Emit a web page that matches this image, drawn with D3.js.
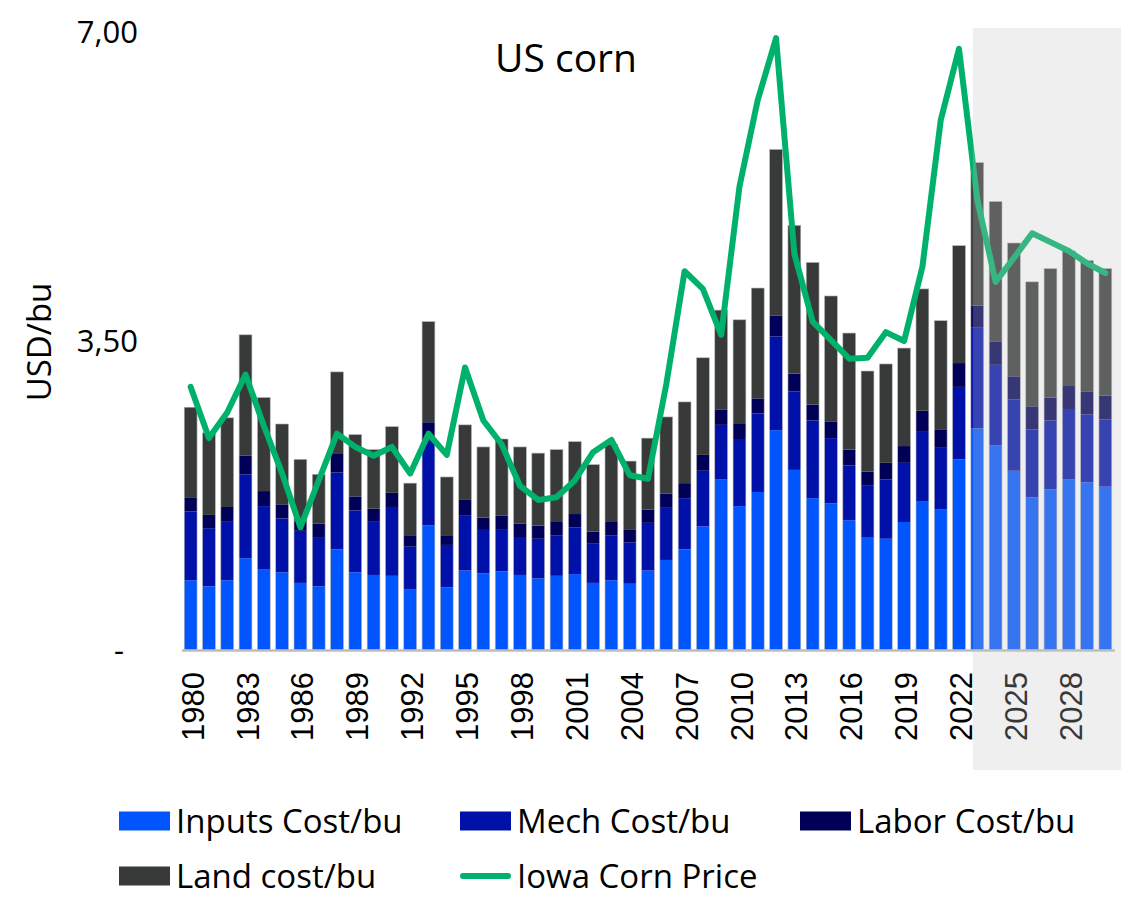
<!DOCTYPE html>
<html>
<head>
<meta charset="utf-8">
<script src="https://cdn.jsdelivr.net/npm/d3@7"></script>
<style>
  body { margin: 0; background: #fff; }
  text { font-family: "Open Sans", sans-serif; fill: #000; }
</style>
</head>
<body>
<div id="container"></div>
<script>
// Data (USD/bu)
const years = [1980, 1981, 1982, 1983, 1984, 1985, 1986, 1987, 1988, 1989,
  1990, 1991, 1992, 1993, 1994, 1995, 1996, 1997, 1998, 1999,
  2000, 2001, 2002, 2003, 2004, 2005, 2006, 2007, 2008, 2009,
  2010, 2011, 2012, 2013, 2014, 2015, 2016, 2017, 2018, 2019,
  2020, 2021, 2022, 2023, 2024, 2025, 2026, 2027, 2028, 2029, 2030];
const inputsCost = [0.79, 0.72, 0.79, 1.04, 0.91, 0.88, 0.76, 0.72, 1.14, 0.88,
  0.85, 0.84, 0.69, 1.41, 0.71, 0.90, 0.87, 0.89, 0.85, 0.81,
  0.84, 0.86, 0.76, 0.79, 0.75, 0.90, 1.02, 1.14, 1.40, 1.93,
  1.63, 1.79, 2.49, 2.04, 1.72, 1.66, 1.47, 1.28, 1.26, 1.45,
  1.68, 1.59, 2.16, 2.51, 2.32, 2.03, 1.73, 1.82, 1.93, 1.90, 1.85];
const mechCost = [0.78, 0.66, 0.67, 0.95, 0.72, 0.61, 0.59, 0.55, 0.87, 0.70,
  0.61, 0.78, 0.48, 0.96, 0.48, 0.62, 0.49, 0.48, 0.43, 0.45,
  0.46, 0.53, 0.45, 0.51, 0.47, 0.54, 0.59, 0.58, 0.63, 0.62,
  0.76, 0.89, 1.06, 0.89, 0.88, 0.74, 0.62, 0.58, 0.67, 0.67,
  0.80, 0.70, 0.82, 1.14, 0.91, 0.81, 0.77, 0.78, 0.80, 0.77, 0.76];
const laborCost = [0.16, 0.15, 0.16, 0.21, 0.17, 0.16, 0.11, 0.16, 0.21, 0.16,
  0.14, 0.16, 0.13, 0.21, 0.11, 0.18, 0.14, 0.15, 0.15, 0.15,
  0.15, 0.15, 0.13, 0.15, 0.14, 0.15, 0.16, 0.17, 0.18, 0.17,
  0.17, 0.17, 0.24, 0.20, 0.18, 0.19, 0.18, 0.16, 0.19, 0.19,
  0.23, 0.21, 0.27, 0.25, 0.26, 0.26, 0.26, 0.26, 0.26, 0.26, 0.27];
const landCost = [1.02, 0.93, 1.01, 1.37, 1.06, 0.91, 0.70, 0.56, 0.93, 0.70,
  0.67, 0.75, 0.59, 1.14, 0.66, 0.85, 0.80, 0.87, 0.87, 0.82,
  0.82, 0.82, 0.76, 0.88, 0.78, 0.81, 0.87, 0.92, 1.10, 1.13,
  1.18, 1.25, 1.88, 1.68, 1.61, 1.42, 1.32, 1.14, 1.12, 1.11,
  1.38, 1.23, 1.33, 1.62, 1.59, 1.51, 1.41, 1.46, 1.53, 1.48, 1.44];
const iowaPrice = [2.98, 2.40, 2.69, 3.12, 2.54, 2.00, 1.39, 1.92, 2.45, 2.30,
  2.20, 2.30, 2.00, 2.45, 2.21, 3.20, 2.60, 2.33, 1.86, 1.70,
  1.73, 1.92, 2.24, 2.38, 1.98, 1.94, 3.01, 4.29, 4.09, 3.57,
  5.25, 6.23, 6.93, 4.49, 3.72, 3.51, 3.30, 3.31, 3.60, 3.50,
  4.34, 6.00, 6.81, 5.10, 4.17, 4.44, 4.72, 4.62, 4.52, 4.38, 4.27];
const tickYears = [1980, 1983, 1986, 1989, 1992, 1995, 1998, 2001, 2004,
  2007, 2010, 2013, 2016, 2019, 2022, 2025, 2028];
const yTicks = [0, 3.5, 7];
const forecastStart = 2023;

const width = 1140, height = 900;

const svg = d3.select("#container")
  .append("svg")
  .attr("width", width)
  .attr("height", height);

// Scales
const x = d3.scaleBand()
  .domain(years)
  .range([181.5, 1114.5])
  .paddingInner(0.3)
  .paddingOuter(0.15);
const y = d3.scaleLinear().domain([0, 7]).range([650, 32]);

const keys = ["inputs", "mech", "labor", "land"];
const colors = { inputs: "#0055ff", mech: "#0011aa", labor: "#000058", land: "#383a3a" };

const table = years.map((yr, i) => ({
  year: yr, inputs: inputsCost[i], mech: mechCost[i], labor: laborCost[i], land: landCost[i]
}));
const series = d3.stack().keys(keys)(table);

// Stacked bars
svg.append("g")
  .selectAll("g")
  .data(series)
  .enter()
  .append("g")
  .attr("fill", (s) => colors[s.key])
  .selectAll("rect")
  .data((s) => s)
  .enter()
  .append("rect")
  .attr("x", (d) => x(d.data.year))
  .attr("width", x.bandwidth())
  .attr("y", (d) => y(d[1]))
  .attr("height", (d) => y(d[0]) - y(d[1]));

// thin outline round each bar
const topLayer = series[series.length - 1];
svg.append("g")
  .selectAll("rect")
  .data(topLayer)
  .enter()
  .append("rect")
  .attr("x", (d) => x(d.data.year))
  .attr("width", x.bandwidth())
  .attr("y", (d) => y(d[1]))
  .attr("height", (d) => y(0) - y(d[1]))
  .attr("fill", "none")
  .attr("stroke", "#b5b5b5")
  .attr("stroke-width", 0.6);

// X axis
const xAxis = svg.append("g")
  .attr("transform", `translate(0,${y(0)})`)
  .call(d3.axisBottom(x).tickValues(tickYears).tickSize(0).tickSizeOuter(0));
xAxis.select(".domain").attr("stroke", "#bdbdbd").attr("stroke-width", 2.5);
xAxis.selectAll("text")
  .attr("transform", "rotate(-90)")
  .attr("x", -22)
  .attr("y", 0)
  .attr("dy", "0.42em")
  .style("text-anchor", "end")
  .style("font-family", "'Liberation Sans', Arial, sans-serif")
  .style("font-size", "31px");

// Y axis
const yAxis = svg.append("g")
  .attr("transform", "translate(138,0)")
  .call(d3.axisLeft(y).tickValues(yTicks).tickSize(0).tickPadding(0)
    .tickFormat((d) => d === 0 ? "-" : d3.format(".2f")(d).replace(".", ",")));
yAxis.select(".domain").remove();
yAxis.selectAll("text")
  .style("font-family", "'Open Sans', sans-serif")
  .style("font-size", "31px")
  .attr("dy", "0.35em");
yAxis.selectAll(".tick").filter((d) => d === 0).select("text").attr("x", -14);

// Price line
const line = d3.line()
  .x((d, i) => x(years[i]) + x.bandwidth() / 2)
  .y((d) => y(d));
svg.append("path")
  .datum(iowaPrice)
  .attr("d", line)
  .attr("fill", "none")
  .attr("stroke", "#00b16b")
  .attr("stroke-width", 6)
  .attr("stroke-linejoin", "round")
  .attr("stroke-linecap", "round");

// Forecast shading over everything
svg.append("rect")
  .attr("x", x(forecastStart) + 2)
  .attr("y", y(7) - 4)
  .attr("width", 1121 - (x(forecastStart) + 2))
  .attr("height", 770 - (y(7) - 4))
  .attr("fill", "rgb(198,198,198)")
  .attr("fill-opacity", 0.28);

// Title and y label
svg.append("text")
  .attr("x", 566)
  .attr("y", 72)
  .attr("text-anchor", "middle")
  .style("font-size", "39px")
  .text("US corn");

svg.append("text")
  .attr("transform", "translate(51,342) rotate(-90)")
  .attr("text-anchor", "middle")
  .style("font-size", "33px")
  .text("USD/bu");

// Legend
const legendItems = [
  { label: "Inputs Cost/bu", color: colors.inputs, type: "rect", lx: 119, ly: 821 },
  { label: "Mech Cost/bu", color: colors.mech, type: "rect", lx: 460, ly: 821 },
  { label: "Labor Cost/bu", color: colors.labor, type: "rect", lx: 800, ly: 821 },
  { label: "Land cost/bu", color: colors.land, type: "rect", lx: 119, ly: 876 },
  { label: "Iowa Corn Price", color: "#00b16b", type: "line", lx: 460, ly: 876 }
];
const legend = svg.append("g")
  .selectAll("g")
  .data(legendItems)
  .enter()
  .append("g")
  .attr("transform", (d) => `translate(${d.lx},${d.ly})`);
legend.filter((d) => d.type === "rect")
  .append("rect")
  .attr("x", 0)
  .attr("y", -9.5)
  .attr("width", 51)
  .attr("height", 19)
  .attr("fill", (d) => d.color);
legend.filter((d) => d.type === "line")
  .append("line")
  .attr("x1", 3)
  .attr("x2", 48)
  .attr("stroke", (d) => d.color)
  .attr("stroke-width", 6)
  .attr("stroke-linecap", "round");
legend.append("text")
  .attr("x", 57)
  .attr("dy", "0.35em")
  .style("font-size", "33px")
  .text((d) => d.label);
</script>
</body>
</html>
